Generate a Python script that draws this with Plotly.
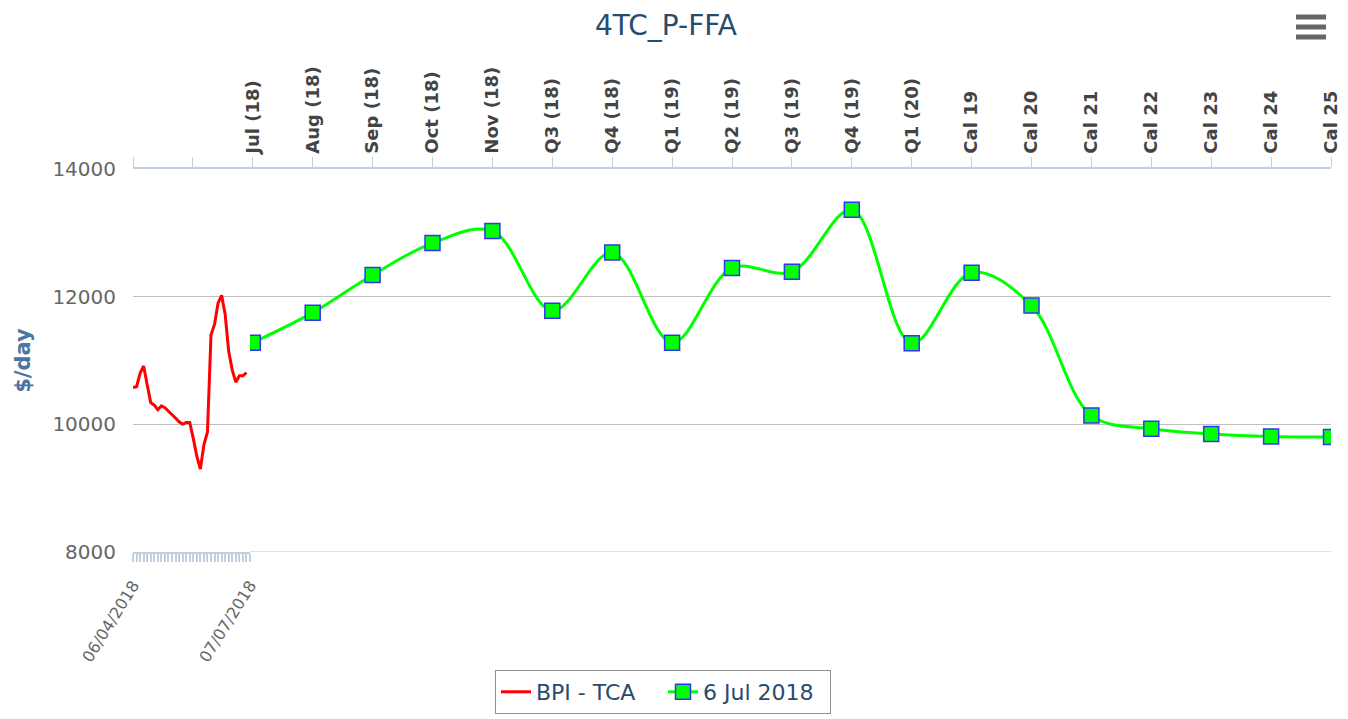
import plotly.graph_objects as go

# ---------------- data ----------------
title_text = "4TC_P-FFA"

# forward curve (top category axis)
placeholder_cats = [" ", "  "]
curve_labels = ["Jul (18)", "Aug (18)", "Sep (18)", "Oct (18)", "Nov (18)",
                "Q3 (18)", "Q4 (18)", "Q1 (19)", "Q2 (19)", "Q3 (19)", "Q4 (19)",
                "Q1 (20)", "Cal 19", "Cal 20", "Cal 21", "Cal 22", "Cal 23",
                "Cal 24", "Cal 25"]
curve_values = [11280, 11750, 12340, 12840, 13030,
                11780, 12690, 11280, 12450, 12390, 13360,
                11270, 12375, 11860, 10140, 9930, 9850,
                9810, 9800]
curve_name = "6 Jul 2018"

# spot index (bottom date axis)
spot_dates = ["2018-06-04", "2018-06-05", "2018-06-06", "2018-06-07", "2018-06-08",
              "2018-06-09", "2018-06-10", "2018-06-11", "2018-06-12", "2018-06-13",
              "2018-06-14", "2018-06-15", "2018-06-16", "2018-06-17", "2018-06-18",
              "2018-06-19", "2018-06-20", "2018-06-21", "2018-06-22", "2018-06-23",
              "2018-06-24", "2018-06-25", "2018-06-26", "2018-06-27", "2018-06-28",
              "2018-06-29", "2018-06-30", "2018-07-01", "2018-07-02", "2018-07-03",
              "2018-07-04", "2018-07-05", "2018-07-06"]
spot_values = [10575, 10590, 10800, 10915, 10620,
               10340, 10300, 10230, 10290, 10260,
               10205, 10160, 10100, 10040, 10000,
               10030, 10030, 9780, 9500, 9300,
               9680, 9880, 11400, 11570, 11900,
               12020, 11720, 11140, 10850, 10660,
               10760, 10760, 10810]
spot_name = "BPI - TCA"
date_axis_range = ["2018-06-04", "2018-07-07"]
date_tick_vals = ["2018-06-04", "2018-07-07"]

y_range = [8000, 14000]
y_tick_vals = [8000, 10000, 12000, 14000]
y_title = "$/day"

# ---------------- figure ----------------
FONT = "DejaVu Sans"
AXIS_COL = "#C0D0E0"
GRID_COL = "#C0C0C0"
OFF = 8  # page body margin offset

fig = go.Figure()

fig.add_trace(go.Scatter(
    x=spot_dates, y=spot_values, name=spot_name, mode="lines",
    line=dict(color="#ff0000", width=3),
    xaxis="x2", yaxis="y",
))

fig.add_trace(go.Scatter(
    x=curve_labels, y=curve_values, name=curve_name, mode="lines+markers",
    line=dict(color="#00ff00", width=3, shape="spline", smoothing=1),
    marker=dict(symbol="square", size=15, color="#00ff00",
                line=dict(color="#3333ff", width=1.5)),
    xaxis="x", yaxis="y",
))

W, H = 1348 - OFF, 719 - OFF
L = 133 - OFF
R = W - (1331 - OFF)
T = 169 - OFF
B = H - (552 - OFF)
plot_w = W - L - R
plot_h = H - T - B
date_domain_end = (250 - 133) / plot_w

fig.update_layout(
    width=W, height=H,
    margin=dict(l=L, r=R, t=T, b=B, autoexpand=False),
    paper_bgcolor="white", plot_bgcolor="white",
    font=dict(family=FONT, color="#666666"),
    title=dict(text=title_text, x=(666 - OFF) / W, xanchor="center",
               y=1 - (25 - OFF) / H, yanchor="middle", yref="container",
               font=dict(family=FONT, size=28, color="#274b6d")),
    xaxis=dict(
        type="category", side="top", anchor="y", domain=[0, 1],
        categoryorder="array", categoryarray=placeholder_cats + curve_labels,
        range=[0, len(placeholder_cats) + len(curve_labels) - 1],
        tickangle=-90, ticks="outside", ticklen=10, tickcolor=AXIS_COL,
        showline=True, linecolor=AXIS_COL, linewidth=1.5,
        showgrid=False, zeroline=False, automargin=False,
        tickfont=dict(family=FONT, size=18, color="#444444", weight="bold"),
    ),
    xaxis2=dict(
        type="date", side="bottom", anchor="y", domain=[0, date_domain_end],
        range=date_axis_range, tickmode="array", tickvals=date_tick_vals,
        tickformat="%m/%d/%Y", tickangle=-58,
        ticks="outside", ticklen=8, tickcolor=AXIS_COL, tickwidth=2,
        minor=dict(dtick=86400000, tick0="2018-06-04", ticks="outside",
                   ticklen=8, tickcolor=AXIS_COL, tickwidth=2, showgrid=False),
        showline=True, linecolor=AXIS_COL, linewidth=1.5,
        showgrid=False, zeroline=False, automargin=False,
        ticklabelstandoff=8,
        tickfont=dict(family=FONT, size=16, color="#666666"),
    ),
    yaxis=dict(
        range=y_range, tickmode="array", tickvals=y_tick_vals, tickformat="d",
        anchor="x",
        showgrid=True, gridcolor=GRID_COL, gridwidth=1,
        showline=False, zeroline=False, ticks="", automargin=False,
        ticklabelstandoff=16,
        tickfont=dict(family=FONT, size=20, color="#666666"),
        title=dict(text=y_title, standoff=16,
                   font=dict(family=FONT, size=21, color="#4d759e", weight="bold")),
    ),
    showlegend=True,
    legend=dict(
        orientation="h", xref="container", yref="container",
        x=(663 - OFF) / W, xanchor="center", y=1 - (692 - OFF) / H, yanchor="middle",
        bordercolor="#909090", borderwidth=1, bgcolor="white",
        entrywidth=122, entrywidthmode="pixels",
        font=dict(family=FONT, size=22, color="#274b6d"),
    ),
)

# baseline gridline at the bottom of the value axis (full width)
fig.add_shape(type="line", xref="paper", yref="y", layer="below",
              x0=0, x1=1, y0=y_range[0], y1=y_range[0],
              line=dict(color=GRID_COL, width=1))

# export-menu icon (three bars) top right
for yy in (17, 27, 37):
    yp = (H - B - (yy - OFF)) / plot_h
    fig.add_shape(type="line", xref="paper", yref="paper",
                  x0=(1296 - 133) / plot_w, x1=(1326 - 133) / plot_w,
                  y0=yp, y1=yp,
                  line=dict(color="#666666", width=5))

fig.write_html("out.html")
